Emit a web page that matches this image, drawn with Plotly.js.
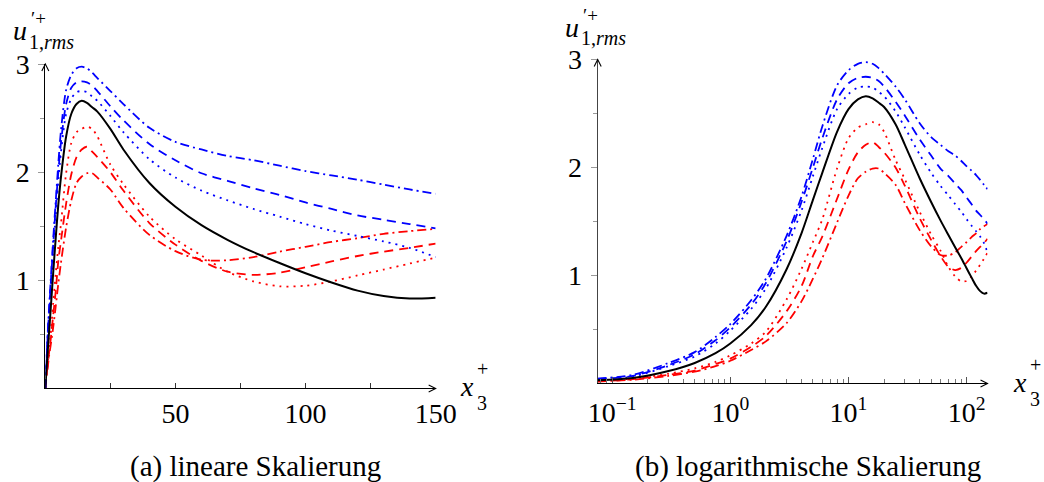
<!DOCTYPE html>
<html>
<head>
<meta charset="utf-8">
<script src="https://cdn.plot.ly/plotly-3.0.1.min.js"></script>
<style>html,body{margin:0;padding:0;background:#fff;}#chart{width:1044px;height:482px;}</style>
</head>
<body>
<div id="chart"></div>
<script>
// x3+ sample positions (shared by both panels)
const xPlus = [0, 0.075, 0.15, 0.3, 0.5, 0.75, 1, 1.5, 2, 3, 4, 5, 6, 8, 10, 12, 14, 16, 18, 20, 25, 30, 40, 50, 60, 70, 80, 90, 100, 110, 120, 130, 140, 150];

// u'+_{1,rms} series
const refSolid    = [0, 0.03, 0.05, 0.115, 0.19, 0.28, 0.37, 0.54, 0.71, 1.06, 1.39, 1.70, 1.95, 2.33, 2.54, 2.63, 2.66, 2.64, 2.60, 2.56, 2.40, 2.21, 1.90, 1.68, 1.51, 1.375, 1.26, 1.16, 1.065, 0.98, 0.905, 0.855, 0.832, 0.84];
const blueDashDot = [0, 0.045, 0.08, 0.19, 0.29, 0.43, 0.55, 0.77, 0.97, 1.37, 1.73, 2.08, 2.38, 2.76, 2.90, 2.96, 2.975, 2.96, 2.92, 2.87, 2.75, 2.63, 2.41, 2.28, 2.21, 2.15, 2.11, 2.06, 2.01, 1.97, 1.93, 1.885, 1.84, 1.80];
const blueDashed  = [0, 0.04, 0.07, 0.17, 0.27, 0.40, 0.52, 0.73, 0.93, 1.32, 1.68, 2.00, 2.27, 2.63, 2.78, 2.83, 2.84, 2.83, 2.80, 2.75, 2.61, 2.48, 2.26, 2.11, 1.99, 1.92, 1.85, 1.79, 1.72, 1.66, 1.60, 1.56, 1.52, 1.48];
const blueDotted  = [0, 0.035, 0.065, 0.16, 0.25, 0.37, 0.49, 0.69, 0.88, 1.26, 1.60, 1.92, 2.18, 2.54, 2.68, 2.74, 2.75, 2.74, 2.70, 2.66, 2.52, 2.37, 2.12, 1.95, 1.83, 1.74, 1.66, 1.59, 1.52, 1.46, 1.41, 1.36, 1.30, 1.215];
const redDotted   = [0, 0.025, 0.045, 0.09, 0.14, 0.20, 0.26, 0.37, 0.48, 0.78, 1.06, 1.31, 1.52, 1.99, 2.27, 2.37, 2.40, 2.42, 2.40, 2.33, 2.07, 1.89, 1.59, 1.38, 1.23, 1.08, 0.99, 0.945, 0.95, 0.99, 1.045, 1.10, 1.155, 1.21];
const redDashed   = [0, 0.02, 0.04, 0.08, 0.12, 0.18, 0.23, 0.34, 0.44, 0.67, 0.90, 1.18, 1.36, 1.71, 1.98, 2.14, 2.21, 2.235, 2.19, 2.14, 2.00, 1.83, 1.53, 1.33, 1.18, 1.08, 1.05, 1.07, 1.12, 1.175, 1.225, 1.265, 1.30, 1.34];
const redDashDot  = [0, 0.018, 0.035, 0.07, 0.11, 0.16, 0.21, 0.31, 0.39, 0.56, 0.76, 0.97, 1.16, 1.49, 1.74, 1.90, 1.96, 1.99, 1.99, 1.95, 1.84, 1.67, 1.42, 1.27, 1.19, 1.185, 1.215, 1.265, 1.31, 1.355, 1.39, 1.43, 1.455, 1.476];

// tick labels
const linTickVals = [50, 100, 150];
const linTickText = ['50', '100', '150'];
const linMinorVals = [25, 75, 125];
const logTickVals = [0.1, 1, 10, 100];
const logTickText = ['10<sup>−1</sup>', '10<sup>0</sup>', '10<sup>1</sup>', '10<sup>2</sup>'];
const yTickVals = [1, 2, 3];
const yTickText = ['1', '2', '3'];
const yMinorVals = [0.5, 1.5, 2.5];
const captions = ['(a) lineare Skalierung', '(b) logarithmische Skalierung'];

const FONT = 'Liberation Serif';
const series = [
  {y: redDashDot,  color: '#ff0000', dash: '9px,4px,2px,4px', w: 1.8},
  {y: redDashed,   color: '#ff0000', dash: '9px,6px', w: 1.8},
  {y: redDotted,   color: '#ff0000', dash: '2px,5px', w: 1.8},
  {y: blueDashDot, color: '#0000ff', dash: '9px,4px,2px,4px', w: 1.8},
  {y: blueDashed,  color: '#0000ff', dash: '9px,6px', w: 1.8},
  {y: blueDotted,  color: '#0000ff', dash: '2px,5px', w: 1.8},
  {y: refSolid,    color: '#000000', dash: 'solid', w: 2}
];

const traces = [];
series.forEach(s => {
  traces.push({x: xPlus, y: s.y, xaxis: 'x', yaxis: 'y', mode: 'lines',
    line: {color: s.color, dash: s.dash, width: s.w, shape: 'spline', smoothing: 0.8}, hoverinfo: 'skip'});
  const xl = [], yl = [];
  xPlus.forEach((v, i) => { if (v > 0) { xl.push(v); yl.push(s.y[i]); } });
  traces.push({x: xl, y: yl, xaxis: 'x2', yaxis: 'y2', mode: 'lines',
    line: {color: s.color, dash: s.dash, width: s.w, shape: 'spline', smoothing: 0.8}, hoverinfo: 'skip'});
});

const W = 1044, H = 482;
function px(x) { return x / W; }
function py(y) { return 1 - y / H; }
function txt(text, x, y, size, xanchor, yanchor) {
  return {xref: 'paper', yref: 'paper', x: px(x), y: py(y), text: text, showarrow: false, borderpad: 0,
    xanchor: xanchor || 'center', yanchor: yanchor || 'middle', font: {family: FONT, size: size, color: '#000'}};
}
function head(xr, yr, xa, ya, path) {
  return {type: 'path', xref: xr, yref: yr, xsizemode: 'pixel', ysizemode: 'pixel', xanchor: xa, yanchor: ya,
    path: path, line: {color: '#000', width: 1.1}};
}
const UP = 'M -3.5 -7 L 0 0 L 3.5 -7';
const RIGHT = 'M -7 3.5 L 0 0 L -7 -3.5';

const tickFont = {family: FONT, size: 28, color: '#000'};
const yAxisBase = {range: [0, 3], showline: true, linecolor: '#000', linewidth: 1, showgrid: false, zeroline: false,
  ticks: 'outside', ticklen: 6, tickcolor: '#999', tickwidth: 1, tickvals: yTickVals, ticktext: yTickText,
  tickfont: tickFont, ticklabelstandoff: 3,
  minor: {tickvals: yMinorVals, ticks: 'outside', ticklen: 4, tickcolor: '#999', tickwidth: 1}};

const minorLog = [];
[0.01, 0.1, 1, 10, 100].forEach(d => { for (let k = 2; k <= 9; k++) { const v = +(k * d).toPrecision(3); if (v > 0.075 && v < 150) minorLog.push(v); } });

const layout = {
  width: W, height: H, margin: {l: 0, r: 0, t: 0, b: 0}, paper_bgcolor: '#fff', plot_bgcolor: 'rgba(0,0,0,0)',
  showlegend: false,
  xaxis: {domain: [0.0434, 0.4173], range: [0, 150], anchor: 'y', showline: true, linecolor: '#000', linewidth: 1,
    showgrid: false, zeroline: false, ticks: 'inside', ticklen: 5, tickcolor: '#333', tickvals: linTickVals, ticktext: linTickText,
    tickfont: tickFont, ticklabelstandoff: 0,
    minor: {tickvals: linMinorVals, ticks: 'inside', ticklen: 5, tickcolor: '#333', tickwidth: 1}},
  yaxis: Object.assign({}, yAxisBase, {domain: [0.194, 0.8672], anchor: 'x'}),
  xaxis2: {type: 'log', domain: [0.5725, 0.9459], range: [Math.log10(0.0755), Math.log10(150)], anchor: 'y2', showline: true,
    linecolor: '#000', linewidth: 1, showgrid: false, zeroline: false, ticks: 'inside', ticklen: 6, tickcolor: '#555',
    tickvals: logTickVals, ticktext: logTickText, tickfont: tickFont, ticklabelstandoff: 4,
    minor: {tickvals: minorLog, ticks: 'inside', ticklen: 4, tickcolor: '#777', tickwidth: 1}},
  yaxis2: Object.assign({}, yAxisBase, {domain: [0.2044, 0.8766], anchor: 'x2', linecolor: '#444'}),
  shapes: [
    head('x domain', 'y domain', 0, 1, UP),
    head('x domain', 'y domain', 1, 0, RIGHT),
    head('x2 domain', 'y2 domain', 0, 1, UP),
    head('x2 domain', 'y2 domain', 1, 0, RIGHT)
  ],
  annotations: [
    // y titles
    txt('<i>u</i>', 20, 30, 28),
    txt('′+', 30, 19, 19, 'left'),
    txt('1,<i>rms</i>', 28, 42, 20, 'left'),
    txt('<i>u</i>', 572, 27, 28),
    txt('′+', 582, 16, 19, 'left'),
    txt('1,<i>rms</i>', 580, 38, 20, 'left'),
    // x titles
    txt('<i>x</i>', 467, 386, 28),
    txt('+', 476, 369, 20, 'left'),
    txt('3', 476, 403, 20, 'left'),
    txt('<i>x</i>', 1020, 382, 28),
    txt('+', 1029, 365, 20, 'left'),
    txt('3', 1029, 399, 20, 'left'),
    // captions
    txt(captions[0], 255, 466, 29),
    txt(captions[1], 808, 466, 29)
  ]
};

Plotly.newPlot('chart', traces, layout, {staticPlot: true, displayModeBar: false});
</script>
</body>
</html>
